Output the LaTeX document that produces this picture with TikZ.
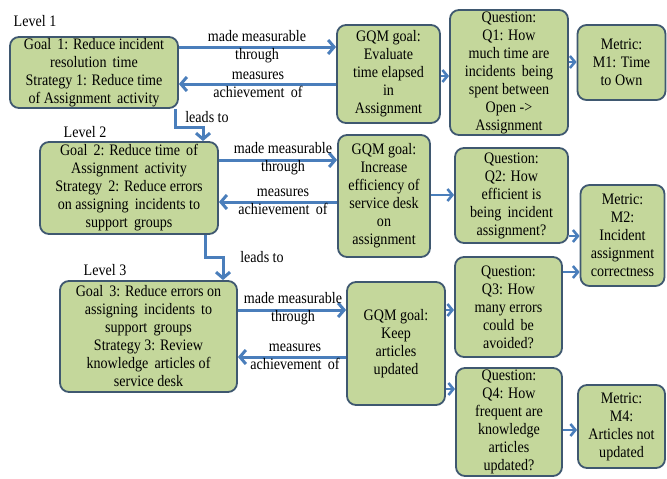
\documentclass[tikz,border=0pt]{standalone}
\usepackage{fontspec}
\setmainfont{Liberation Serif}[FakeStretch=0.88]
\usetikzlibrary{arrows.meta}
\definecolor{boxfill}{HTML}{C4D79B}
\definecolor{boxline}{HTML}{3F5870}
\definecolor{arrcol}{HTML}{4A7EBB}
\tikzset{
  box/.style={draw=boxline, fill=boxfill, rounded corners=9pt, line width=1.8pt,
    align=center, inner sep=0pt, font=\fontsize{16}{18}\selectfont},
  lbl/.style={align=center, inner sep=0pt, font=\fontsize{16}{18}\selectfont},
  arr/.style={draw=arrcol, line width=3pt, -{Straight Barb[length=6pt,width=14pt]}},
  sarr/.style={draw=arrcol, line width=2.6pt, -{Straight Barb[length=5pt,width=12pt]}}
}
\begin{document}
\begin{tikzpicture}[x=1pt,y=-1pt]
\useasboundingbox[fill=white] (0,0) rectangle (667,479);
% level labels
\node[lbl] (l1) at (35,21) {Level 1};
\node[lbl] (l2) at (85,132) {Level 2};
\node[lbl] (l3) at (105,270) {Level 3};
% goals
\node[box, minimum width=168pt, minimum height=71pt] (g1) at (94,72.5)
  {Goal\, 1: Reduce incident\\resolution\, time\\Strategy 1: Reduce time\\of Assignment\, activity};
\node[box, minimum width=178pt, minimum height=92pt] (g2) at (129,188)
  {Goal\, 2: Reduce time\, of\\Assignment\, activity\\Strategy\, 2: Reduce errors\\on assigning\, incidents to\\support\, groups};
\node[box, minimum width=177pt, minimum height=111pt] (g3) at (148.5,336.5)
  {Goal\, 3: Reduce errors on\\assigning\, incidents\, to\\support\, groups\\Strategy 3: Review\\knowledge\, articles of\\service desk};
% GQM goals
\node[box, minimum width=103pt, minimum height=98pt] (q1g) at (388.5,74)
  {GQM goal:\\Evaluate\\time elapsed\\in\\Assignment};
\node[box, minimum width=92pt, minimum height=122pt] (q2g) at (384,196)
  {GQM goal:\\Increase\\efficiency of\\service desk\\on\\assignment};
\node[box, minimum width=98pt, minimum height=123pt] (q3g) at (396,343.5)
  {GQM goal:\\Keep\\articles\\updated};
% questions
\node[box, minimum width=118pt, minimum height=125pt] (qq1) at (509,72.5)
  {Question:\\Q1: How\\much time are\\incidents\, being\\spent between\\Open ->\\Assignment};
\node[box, minimum width=113pt, minimum height=95pt] (qq2) at (511.5,195.5)
  {Question:\\Q2: How\\efficient is\\being\, incident\\assignment?};
\node[box, minimum width=107pt, minimum height=100pt] (qq3) at (508.5,307)
  {Question:\\Q3: How\\many errors\\could\, be\\avoided?};
\node[box, minimum width=106pt, minimum height=108pt] (qq4) at (509,422)
  {Question:\\Q4: How\\frequent are\\knowledge\\articles\\updated?};
% metrics
\node[box, minimum width=88pt, minimum height=75pt] (m1) at (621.5,62.5)
  {Metric:\\M1: Time\\to Own};
\node[box, minimum width=84pt, minimum height=101pt] (m2) at (622.5,235.5)
  {Metric:\\M2:\\Incident\\assignment\\correctness};
\node[box, minimum width=87pt, minimum height=83pt] (m4) at (621.5,426.5)
  {Metric:\\M4:\\Articles not\\updated};
% goal <-> GQM arrows
\draw[arr] (g1.east |- 0,47) -- (q1g.west |- 0,47);
\draw[arr] (q1g.west |- 0,84) -- (g1.east |- 0,84);
\draw[arr] (g2.east |- 0,160) -- (q2g.west |- 0,160);
\draw[arr] (q2g.west |- 0,202) -- (g2.east |- 0,202);
\draw[arr] (g3.east |- 0,310) -- (q3g.west |- 0,310);
\draw[arr] (q3g.west |- 0,357) -- (g3.east |- 0,357);
\node[lbl] (t1a) at (257,46.5) {made measurable\\through};
\node[lbl] (t1b) at (258,85) {measures\\achievement\, of};
\node[lbl] (t2a) at (283,158.5) {made measurable\\through};
\node[lbl] (t2b) at (283,201.5) {measures\\achievement\, of};
\node[lbl] (t3a) at (293,308.5) {made measurable\\through};
\node[lbl] (t3b) at (295,357) {measures\\achievement\, of};
% leads to
\draw[arr, rounded corners=0pt] (g1.south -| 175,0) |- (203,127) -- (g2.north -| 203,0);
\node[lbl] (lt1) at (207,117) {leads to};
\draw[arr, rounded corners=0pt] (g2.south -| 205,0) |- (223,257) -- (g3.north -| 223,0);
\node[lbl] (lt2) at (262,257) {leads to};
% GQM -> question
\draw[sarr] (q1g.east |- 0,76) -- (qq1.west |- 0,76);
\draw[sarr] (q2g.east |- 0,195) -- (qq2.west |- 0,195);
\draw[sarr] (q3g.east |- 0,310) -- (qq3.west |- 0,310);
\draw[sarr] (q3g.east |- 0,389) -- (qq4.west |- 0,389);
% question -> metric
\draw[sarr] (qq1.east |- 0,62) -- (m1.west |- 0,62);
\draw[sarr] (qq2.east |- 0,236) -- (m2.west |- 0,236);
\draw[sarr] (qq3.east |- 0,272) -- (m2.west |- 0,272);
\draw[sarr] (qq4.east |- 0,430) -- (m4.west |- 0,430);
\end{tikzpicture}
\end{document}
